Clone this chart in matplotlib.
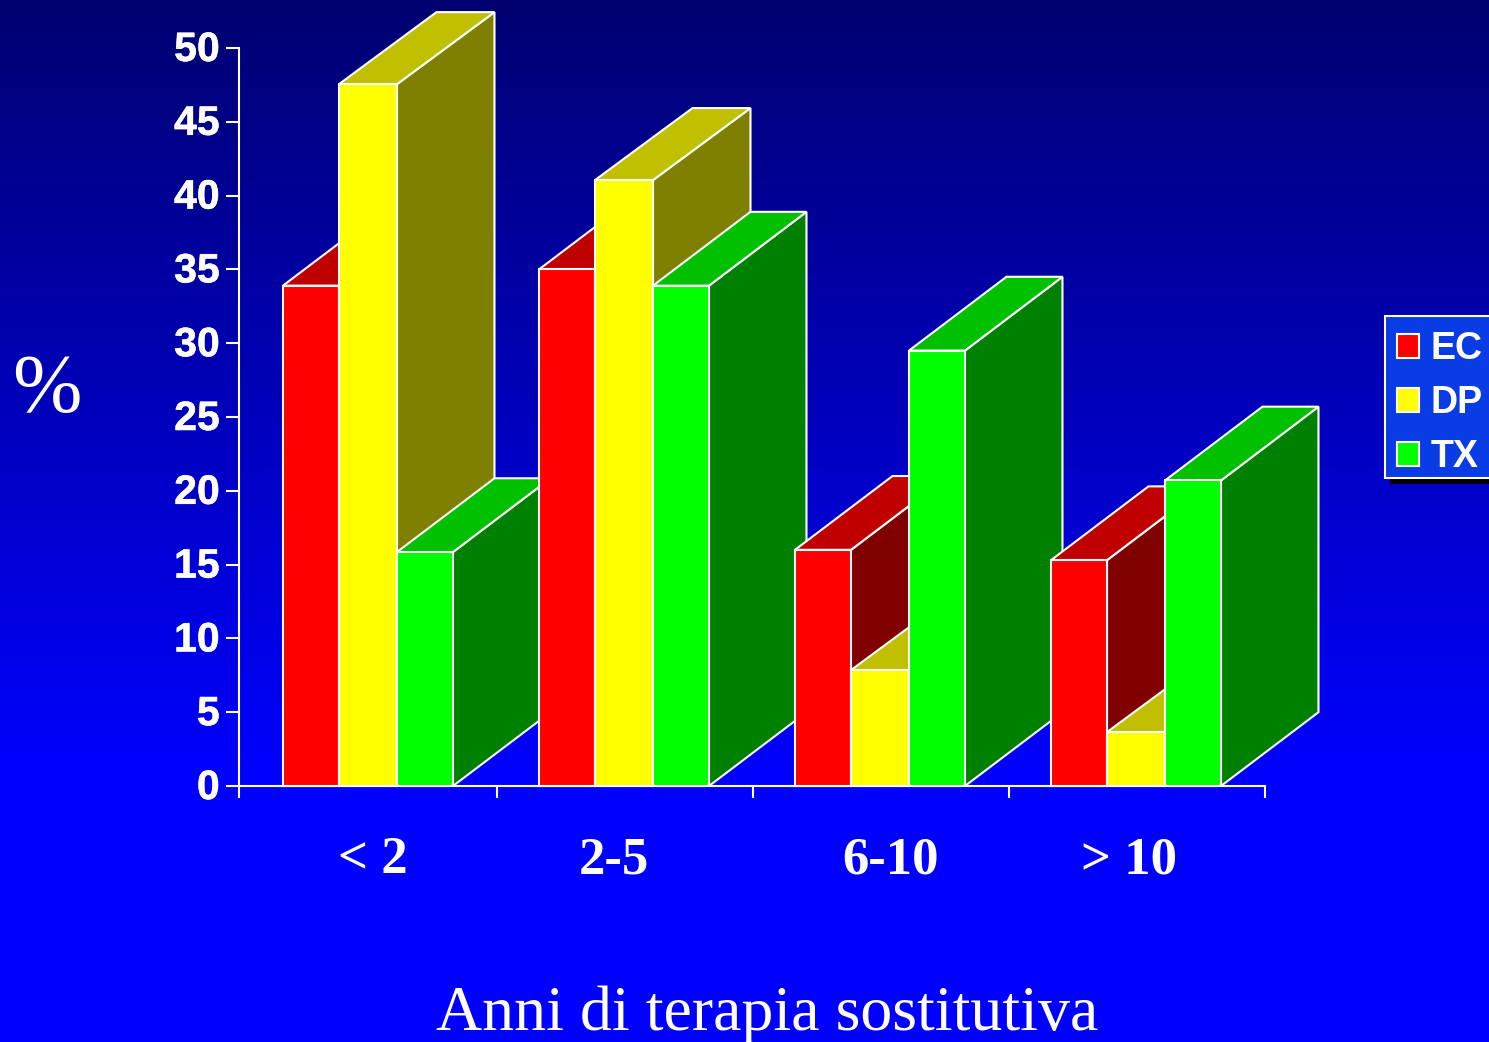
import numpy as np
import matplotlib
matplotlib.use("Agg")
import matplotlib.pyplot as plt
import matplotlib.patheffects as pe
from matplotlib.patches import Patch, Rectangle
from matplotlib.colors import LinearSegmentedColormap
from matplotlib.transforms import ScaledTranslation

W, H = 1489, 1042

categories = ["< 2", "2-5", "6-10", "> 10"]
series = ["EC", "DP", "TX"]
ec = [33.9, 35.0, 16.0, 15.3]
dp = [47.55, 41.05, 7.85, 3.65]
tx = [15.85, 33.9, 29.5, 20.7]
yticks = [0, 5, 10, 15, 20, 25, 30, 35, 40, 45, 50]

front = ["#FF0000", "#FFFF00", "#00FF00"]
top = ["#C00000", "#C0C000", "#00C000"]
side = ["#800000", "#808000", "#008000"]

# depth of the fake 3d, in data units
depth_x = 97.5 / 256.5
depth_y = [5.0, 4.88, 5.0]
group_left = [0.1715, 1.1696, 2.1676, 3.1657]
bar_w = [0.2183, 0.2261, 0.2183]
xticks = [0, 1.0058, 2.0039, 3.002, 4]
label_pos = [0.52, 1.46, 2.54, 3.47]

fig = plt.figure(figsize=(W / 100, H / 100), dpi=100)

# background gradient
bg = fig.add_axes([0, 0, 1, 1], zorder=0)
cmap = LinearSegmentedColormap.from_list("bg", [(0, 0, 0.44), (0, 0, 1)])
bg.imshow(np.linspace(0, 1.34, 400).clip(0, 1).reshape(-1, 1), aspect="auto", cmap=cmap, vmin=0, vmax=1)
bg.axis("off")

ax = fig.add_axes([239 / W, 1 - 786 / H, (1265 - 239) / W, (786 - 48) / H], zorder=1)
ax.patch.set_alpha(0)
ax.set_xlim(0, 4)
ax.set_ylim(0, 50)

z = 3
for g in range(len(categories)):
    x0 = group_left[g]
    for s, values in enumerate([ec, dp, tx]):
        h = values[g]
        x1 = x0 + bar_w[s]
        dx, dy = depth_x, depth_y[s]
        style = dict(edgecolor="white", linewidth=1.5, clip_on=False, joinstyle="miter")
        ax.fill([x1, x1 + dx, x1 + dx, x1], [0, dy, h + dy, h], facecolor=side[s], zorder=z, **style)
        ax.fill([x0, x0 + dx, x1 + dx, x1], [h, h + dy, h + dy, h], facecolor=top[s], zorder=z, **style)
        ax.bar(x0, h, bar_w[s], align="edge", color=front[s], zorder=z, **style)
        x0 = x1
        z += 1

for name in ["top", "right"]:
    ax.spines[name].set_visible(False)
for name in ["left", "bottom"]:
    ax.spines[name].set_color("white")
    ax.spines[name].set_linewidth(1.5)

ax.set_yticks(yticks)
ax.set_xticks(xticks, [""] * 5)
ax.set_xticks(label_pos, categories, minor=True)
ax.tick_params(axis="y", colors="white", length=9.4, width=1.5, pad=4.5, labelsize=29.5)
ax.tick_params(axis="x", which="major", colors="white", length=8.5, width=1.5)
ax.tick_params(axis="x", which="minor", colors="white", length=0, pad=36, labelsize=38)
up = ScaledTranslation(0, 2 / 100, fig.dpi_scale_trans)
for t in ax.get_yticklabels():
    t.set_fontfamily("Liberation Sans")
    t.set_fontweight("bold")
    t.set_transform(t.get_transform() + up)
    t.set_path_effects([pe.withStroke(linewidth=0.4, foreground="white")])
for t in ax.get_xticklabels(minor=True):
    t.set_fontfamily("Liberation Serif")
    t.set_fontweight("bold")

fig.text(47 / W, 1 - 411 / H, "%", color="white", family="Liberation Serif", fontsize=60, ha="center", va="baseline")
fig.text(767 / W, 1 - 1030 / H, "Anni di terapia sostitutiva", color="white", family="Liberation Serif",
         fontsize=46, ha="center", va="baseline")

# legend runs off the right edge of the picture, box drawn by hand for the uneven padding
leg_ax = fig.add_axes([0, 0, 1, 1], zorder=2)
leg_ax.axis("off")
leg_ax.add_patch(Rectangle((1390 / W, 1 - 484 / H), 110 / W, 10 / H, transform=fig.transFigure,
                           facecolor="black", edgecolor="none"))
leg_ax.add_patch(Rectangle((1385 / W, 1 - 478 / H), 115 / W, 162 / H, transform=fig.transFigure,
                           facecolor="#0A3CE6", edgecolor="white", linewidth=1.5, joinstyle="miter"))
handles = [Patch(facecolor=c, edgecolor="white", linewidth=1.5) for c in front]
leg = leg_ax.legend(handles, series, loc="upper left", bbox_to_anchor=(1385 / W, 1 - 319 / H),
                    bbox_transform=fig.transFigure, borderaxespad=0, frameon=False,
                    handlelength=0.58, handleheight=0.58, handletextpad=0.3, labelspacing=0.48, borderpad=0.33,
                    prop={"family": "Liberation Sans", "weight": "bold", "size": 27})
for t in leg.get_texts():
    t.set_color("white")

fig.savefig("out.png", dpi=100)
